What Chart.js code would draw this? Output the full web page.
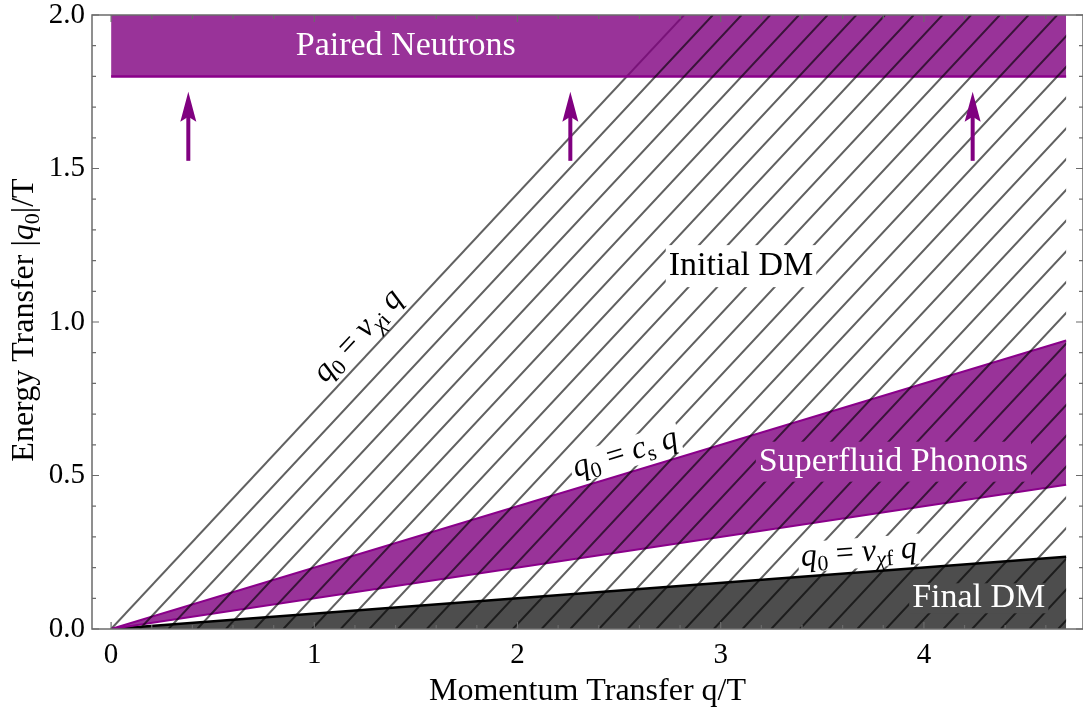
<!DOCTYPE html>
<html>
<head>
<meta charset="utf-8">
<script src="https://cdn.jsdelivr.net/npm/chart.js"></script>
<style>
  html, body { margin: 0; padding: 0; background: #fff; }
</style>
</head>
<body>
<canvas id="transferChart" width="1083" height="715"></canvas>
<script>
// momentum transfer q/T at the ends of each wedge
const qEnds = [0, 4.7];
// lower edge of the paired neutron band (band runs up to the top of the plot)
const pairedEdge = [1.8, 1.8];
// superfluid phonon band, q0 = c_s q with a spread of sound speeds
const phononLow = [0, 0.47];
const phononHigh = [0, 0.94];
// final DM wedge, q0 = v_chi_f q
const finalDM = [0, 0.235];
// initial DM boundary, q0 = v_chi_i q, from origin to the top of the plot
const initialQ = [0, 2.82];
const initialQ0 = [0, 2.0];
// arrows pointing up to the paired neutron band
const arrowQ = [0.38, 2.26, 4.24];
const arrowFrom = [1.525, 1.525, 1.525];
const arrowTo = [1.75, 1.75, 1.75];

const xTicks = [0, 1, 2, 3, 4];
const xTickLabels = ['0', '1', '2', '3', '4'];
const yTicks = [0, 0.5, 1.0, 1.5, 2.0];
const yTickLabels = ['0.0', '0.5', '1.0', '1.5', '2.0'];
const xMinorStep = 0.2;
const yMinorStep = 0.1;

const serif = '"Liberation Serif", "Times New Roman", serif';
const purpleFill = 'rgba(128, 0, 128, 0.8)';
const purpleEdge = '#8a008a';
const darkFill = '#4d4d4d';
const hatchColor = 'rgba(0, 0, 0, 0.62)';
const hatchWidth = 2;
const hatchGap = 28.7;   // px between hatch lines, measured along q
const frameColor = '#6b6b6b';

const pts = (xs, ys) => xs.map((x, i) => ({ x: x, y: ys[i] }));

// region names and formula labels (anchored in data coordinates)
const regionLabels = [
  { runs: [{ t: 'Paired Neutrons' }], q: 1.45, q0: 1.90, color: '#fff', bg: null },
  { runs: [{ t: 'Initial DM' }], q: 3.10, q0: 1.182, color: '#000', bg: '#fff', half: 21 },
  { runs: [{ t: 'Superfluid Phonons' }], q: 3.85, q0: 0.545, color: '#fff', bg: 'rgb(153, 51, 153)', half: 20 },
  { runs: [{ t: 'Final DM' }], q: 4.27, q0: 0.10, color: '#fff', bg: darkFill, half: 15 }
];
const formulaLabels = [
  { runs: [{ t: 'q', it: 1 }, { t: '0', sub: 1 }, { t: ' = ' }, { t: 'v', it: 1 }, { t: 'χ', it: 1, sub: 1 }, { t: 'i', sub: 1 }, { t: ' q', it: 1 }],
    q: 1.215, q0: 0.955, slope: initialQ0[1] / initialQ[1] },
  { runs: [{ t: 'q', it: 1 }, { t: '0', sub: 1 }, { t: ' = ' }, { t: 'c', it: 1 }, { t: 's', sub: 1 }, { t: ' q', it: 1 }],
    q: 2.53, q0: 0.572, slope: phononHigh[1] / qEnds[1] },
  { runs: [{ t: 'q', it: 1 }, { t: '0', sub: 1 }, { t: ' = ' }, { t: 'v', it: 1 }, { t: 'χ', it: 1, sub: 1 }, { t: 'f', sub: 1 }, { t: ' q', it: 1 }],
    q: 3.68, q0: 0.247, slope: finalDM[1] / qEnds[1] }
];

function runFont(r, size) {
  return (r.it ? 'italic ' : '') + (r.sub ? Math.round(size * 0.68) : size) + 'px ' + serif;
}

function drawRich(ctx, runs, size, cx, cy, angle, color, bg, half) {
  ctx.save();
  ctx.translate(cx, cy);
  ctx.rotate(angle);
  let w = 0;
  const widths = runs.map(r => { ctx.font = runFont(r, size); const m = ctx.measureText(r.t).width; w += m; return m; });
  if (bg) {
    ctx.fillStyle = bg;
    const h = half || size * 0.5;
    ctx.fillRect(-w / 2 - 3, -h, w + 6, 2 * h);
  }
  ctx.fillStyle = color;
  ctx.textAlign = 'left';
  ctx.textBaseline = 'middle';
  let px = -w / 2;
  runs.forEach((r, i) => {
    ctx.font = runFont(r, size);
    ctx.fillText(r.t, px, r.sub ? size * 0.27 : 0);
    px += widths[i];
  });
  ctx.restore();
}

// hatching of the initial DM region: parallel to q0 = v_chi_i q, clipped to the region
const hatchPlugin = {
  id: 'hatch',
  afterDatasetsDraw(chart) {
    const { ctx, scales: { x, y } } = chart;
    const x0 = x.getPixelForValue(initialQ[0]);
    const y0 = y.getPixelForValue(initialQ0[0]);
    const xTop = x.getPixelForValue(initialQ[1]);
    const yTop = y.getPixelForValue(initialQ0[1]);
    const xEnd = x.getPixelForValue(qEnds[1]);
    const run = xTop - x0;
    ctx.save();
    ctx.beginPath();
    ctx.moveTo(x0, y0);
    ctx.lineTo(xTop, yTop);
    ctx.lineTo(xEnd, yTop);
    ctx.lineTo(xEnd, y0);
    ctx.closePath();
    ctx.clip();
    ctx.strokeStyle = hatchColor;
    ctx.lineWidth = hatchWidth;
    ctx.beginPath();
    for (let k = 1; x0 + k * hatchGap < xEnd; k++) {
      const xb = x0 + k * hatchGap;
      ctx.moveTo(xb, y0);
      ctx.lineTo(xb + run, yTop);
    }
    ctx.stroke();
    ctx.restore();
  }
};

const labelPlugin = {
  id: 'labels',
  afterDatasetsDraw(chart) {
    const { ctx, scales: { x, y } } = chart;
    const pxPerQ = x.getPixelForValue(1) - x.getPixelForValue(0);
    const pxPerQ0 = y.getPixelForValue(0) - y.getPixelForValue(1);
    regionLabels.forEach(l => {
      drawRich(ctx, l.runs, 34, x.getPixelForValue(l.q), y.getPixelForValue(l.q0), 0, l.color, l.bg, l.half);
    });
    formulaLabels.forEach(l => {
      const ang = -Math.atan2(l.slope * pxPerQ0, pxPerQ);
      drawRich(ctx, l.runs, 32, x.getPixelForValue(l.q), y.getPixelForValue(l.q0), ang, '#000', '#fff', 15);
    });
    // arrows
    ctx.save();
    ctx.strokeStyle = '#800080';
    ctx.fillStyle = '#800080';
    ctx.lineWidth = 4;
    arrowQ.forEach((q, i) => {
      const ax = x.getPixelForValue(q);
      const yb = y.getPixelForValue(arrowFrom[i]);
      const yt = y.getPixelForValue(arrowTo[i]);
      ctx.beginPath();
      ctx.moveTo(ax, yb);
      ctx.lineTo(ax, yt + 22);
      ctx.stroke();
      ctx.beginPath();
      ctx.moveTo(ax, yt);
      ctx.lineTo(ax + 8, yt + 30);
      ctx.lineTo(ax, yt + 25);
      ctx.lineTo(ax - 8, yt + 30);
      ctx.closePath();
      ctx.fill();
    });
    ctx.restore();
  }
};

// Mathematica-like frame with inward ticks on all four sides, plus the y title
const framePlugin = {
  id: 'frame',
  afterDraw(chart) {
    const { ctx, chartArea: { left, right, top, bottom }, scales: { x, y } } = chart;
    ctx.save();
    ctx.strokeStyle = frameColor;
    ctx.lineWidth = 1.5;
    ctx.strokeRect(left, top, right - left, bottom - top);
    ctx.lineWidth = 1.2;
    ctx.beginPath();
    for (let i = Math.ceil(x.min / xMinorStep); i * xMinorStep <= x.max; i++) {
      const v = i * xMinorStep;
      const major = Math.abs(v - Math.round(v)) < 1e-6;
      const len = major ? 7 : 4;
      const px = x.getPixelForValue(v);
      ctx.moveTo(px, bottom); ctx.lineTo(px, bottom - len);
      ctx.moveTo(px, top); ctx.lineTo(px, top + len);
    }
    for (let i = 0; i * yMinorStep <= y.max + 1e-9; i++) {
      const v = i * yMinorStep;
      const major = i % 5 === 0;
      const len = major ? 7 : 4;
      const py = y.getPixelForValue(v);
      ctx.moveTo(left, py); ctx.lineTo(left + len, py);
      ctx.moveTo(right, py); ctx.lineTo(right - len, py);
    }
    ctx.stroke();
    ctx.restore();

    // y axis title with italic q and subscript
    const runs = [{ t: 'Energy Transfer |' }, { t: 'q', it: 1 }, { t: '0', sub: 1 }, { t: '|/T' }];
    drawRich(ctx, runs, 32, 25, 320, -Math.PI / 2, '#000', null);
  }
};

new Chart(document.getElementById('transferChart'), {
  type: 'line',
  data: {
    datasets: [
      { label: 'Paired Neutrons', data: pts(qEnds, pairedEdge), borderColor: purpleEdge, borderWidth: 2.5,
        backgroundColor: purpleFill, fill: 'end' },
      { label: 'Phonons (low)', data: pts(qEnds, phononLow), borderColor: purpleEdge, borderWidth: 2, fill: false },
      { label: 'Superfluid Phonons', data: pts(qEnds, phononHigh), borderColor: purpleEdge, borderWidth: 2,
        backgroundColor: purpleFill, fill: '-1' },
      { label: 'Final DM', data: pts(qEnds, finalDM), borderColor: '#000', borderWidth: 2.5,
        backgroundColor: darkFill, fill: 'origin' },
      { label: 'Initial DM', data: pts(initialQ, initialQ0), borderColor: hatchColor, borderWidth: hatchWidth, fill: false }
    ]
  },
  options: {
    responsive: false,
    animation: false,
    devicePixelRatio: 1,
    layout: { padding: { top: 15, right: 0, bottom: 0, left: 0 } },
    elements: { point: { radius: 0 }, line: { tension: 0 } },
    plugins: { legend: { display: false }, tooltip: { enabled: false } },
    scales: {
      x: {
        type: 'linear',
        min: -0.094,
        max: 4.783,
        grid: { display: false, drawTicks: false },
        border: { display: false },
        afterBuildTicks: s => { s.ticks = xTicks.map(v => ({ value: v })); },
        afterFit: s => { s.height = 86; s.paddingLeft = 0; s.paddingRight = 0; },
        ticks: {
          color: '#000',
          font: { family: serif, size: 29 },
          padding: 9,
          maxRotation: 0,
          callback: (v, i) => xTickLabels[i]
        },
        title: {
          display: true,
          text: 'Momentum Transfer q/T',
          color: '#000',
          font: { family: serif, size: 32 },
          padding: { top: 0, bottom: 4 }
        }
      },
      y: {
        type: 'linear',
        min: 0,
        max: 2,
        grid: { display: false, drawTicks: false },
        border: { display: false },
        afterBuildTicks: s => { s.ticks = yTicks.map(v => ({ value: v })); },
        afterFit: s => { s.width = 92; s.paddingTop = 0; s.paddingBottom = 0; },
        ticks: {
          color: '#000',
          font: { family: serif, size: 29 },
          padding: 7,
          callback: (v, i) => yTickLabels[i]
        }
      }
    }
  },
  plugins: [hatchPlugin, labelPlugin, framePlugin]
});
</script>
</body>
</html>
